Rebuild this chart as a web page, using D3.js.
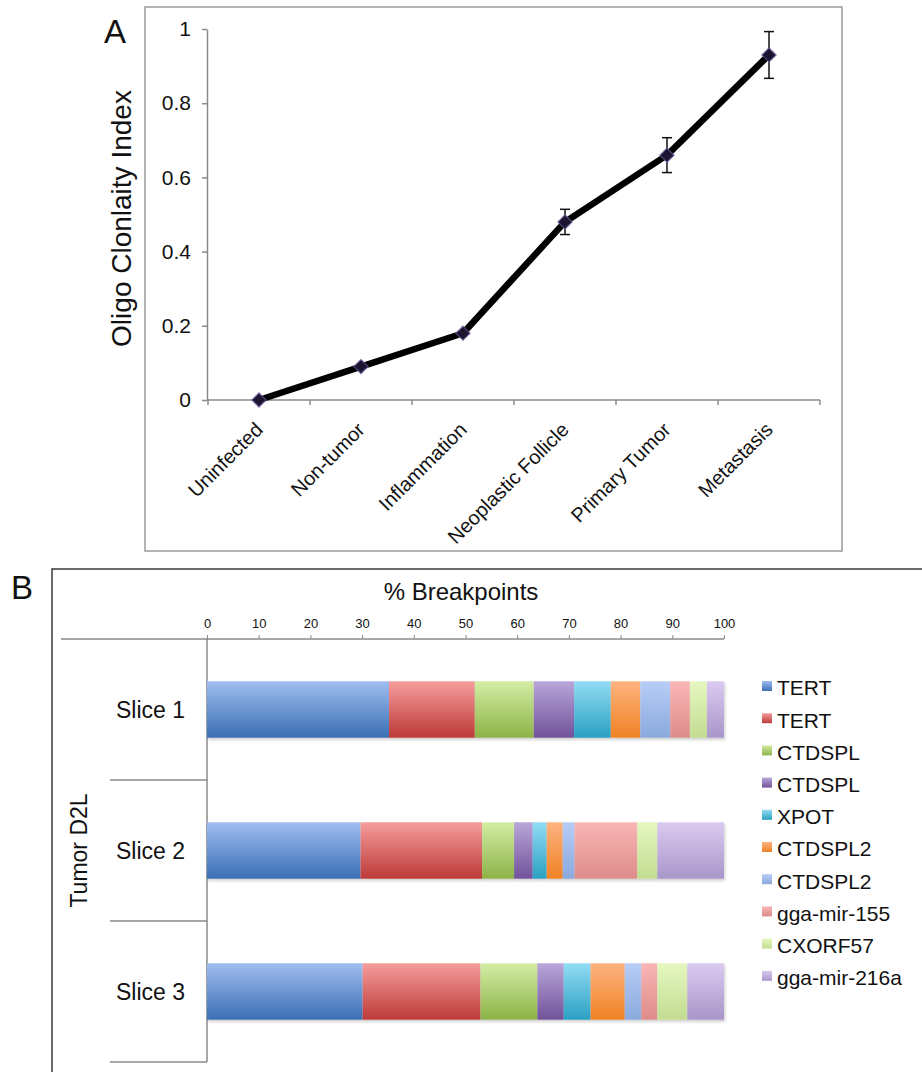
<!DOCTYPE html>
<html>
<head>
<meta charset="utf-8">
<script src="https://cdn.jsdelivr.net/npm/d3@7"></script>
<style>
  body { margin: 0; background: #fff; }
  text { font-family: "Liberation Sans", Arial, Helvetica, sans-serif; fill: #111; }
</style>
</head>
<body>
<div id="chart"></div>
<script>
// Panel A data
const stages = ["Uninfected", "Non-tumor", "Inflammation", "Neoplastic Follicle", "Primary Tumor", "Metastasis"];
const clonality = [0, 0.09, 0.18, 0.48, 0.66, 0.93];
const clonalityErr = [0, 0, 0, 0.034, 0.047, 0.063];
const yTicksA = [0, 0.2, 0.4, 0.6, 0.8, 1];

// Panel B data
const slices = ["Slice 1", "Slice 2", "Slice 3"];
const seriesNames = ["TERT", "TERT", "CTDSPL", "CTDSPL", "XPOT", "CTDSPL2", "CTDSPL2", "gga-mir-155", "CXORF57", "gga-mir-216a"];
const slice1 = [35.2, 16.6, 11.4, 7.8, 7.1, 5.7, 5.8, 3.8, 3.3, 3.3];
const slice2 = [29.7, 23.5, 6.2, 3.6, 2.7, 3.1, 2.3, 12.1, 3.9, 12.9];
const slice3 = [30.1, 22.8, 11.0, 5.1, 5.2, 6.6, 3.2, 3.1, 5.8, 7.1];
const xTicksB = [0, 10, 20, 30, 40, 50, 60, 70, 80, 90, 100];

// gradient colours (top, bottom) per series
const colorTop = ["#a0bdf0", "#f59d9c", "#d3eda4", "#b9a6d9", "#92dcf4", "#fdb380", "#b7cdf6", "#f9b6b5", "#e5f7c0", "#dacaf0"];
const colorBot = ["#3a6fb5", "#bd3a38", "#8db348", "#71529a", "#2aa0c2", "#f08224", "#8aa9dd", "#dd8b8a", "#c3dc92", "#a996ca"];

const svg = d3.select("#chart").append("svg")
  .attr("width", 922)
  .attr("height", 1072);

const defs = svg.append("defs");
colorTop.forEach((c, i) => {
  const g = defs.append("linearGradient").attr("id", "grad" + i)
    .attr("x1", 0).attr("y1", 0).attr("x2", 0).attr("y2", 1);
  g.append("stop").attr("offset", "0%").attr("stop-color", c);
  g.append("stop").attr("offset", "100%").attr("stop-color", colorBot[i]);
});
const shadow = defs.append("filter").attr("id", "shadow")
  .attr("x", "-5%").attr("y", "-20%").attr("width", "110%").attr("height", "150%");
shadow.append("feDropShadow").attr("dx", 1).attr("dy", 2).attr("stdDeviation", 1.5)
  .attr("flood-color", "#000").attr("flood-opacity", 0.2);

// ---------------- Panel A ----------------
svg.append("rect")
  .attr("x", 145).attr("y", 7).attr("width", 697).attr("height", 544)
  .attr("fill", "none").attr("stroke", "#9a9a9a").attr("stroke-width", 1.5);

svg.append("text").attr("x", 104).attr("y", 43).style("font-size", "33px").text("A");

const x = d3.scaleBand().domain(stages).range([208, 820]);
const y = d3.scaleLinear().domain([0, 1]).range([400, 29]);

const yAxis = svg.append("g")
  .attr("transform", "translate(207,0)")
  .call(d3.axisLeft(y).tickValues(yTicksA).tickSize(5).tickSizeOuter(0)
    .tickPadding(11).tickFormat(d3.format("~g")));
yAxis.selectAll("path, line").attr("stroke", "#8a8a8a").attr("stroke-width", 1.5);
yAxis.selectAll("text").style("font-size", "21px").attr("fill", "#111");

// x axis line + boundary ticks
const xAxis = svg.append("g");
xAxis.append("line")
  .attr("x1", x.range()[0]).attr("x2", x.range()[1])
  .attr("y1", y(0)).attr("y2", y(0))
  .attr("stroke", "#8a8a8a").attr("stroke-width", 1.5);
xAxis.selectAll(".xtick")
  .data(stages.map(s => x(s)).concat([x.range()[1]]))
  .enter().append("line")
  .attr("x1", d => d).attr("x2", d => d)
  .attr("y1", y(0)).attr("y2", y(0) + 5)
  .attr("stroke", "#8a8a8a").attr("stroke-width", 1.5);
xAxis.selectAll(".xlab")
  .data(stages)
  .enter().append("text")
  .attr("transform", d => `translate(${x(d) + x.bandwidth() / 2 + 5},${y(0) + 31}) rotate(-45)`)
  .attr("text-anchor", "end")
  .style("font-size", "20px")
  .text(d => d);

svg.append("text")
  .attr("transform", `translate(131,${(y(0) + y(1)) / 2 + 4}) rotate(-90)`)
  .attr("text-anchor", "middle")
  .style("font-size", "28px")
  .text("Oligo Clonlaity Index");

const pts = stages.map((s, i) => ({ s: s, v: clonality[i], e: clonalityErr[i] }));
const cx = d => x(d.s) + x.bandwidth() / 2;

svg.append("path")
  .datum(pts)
  .attr("fill", "none")
  .attr("stroke", "#000")
  .attr("stroke-width", 6.5)
  .attr("stroke-linejoin", "round")
  .attr("d", d3.line().x(cx).y(d => y(d.v)));

// error bars
const err = svg.append("g").selectAll("g")
  .data(pts.filter(d => d.e > 0))
  .enter().append("g")
  .attr("stroke", "#111").attr("stroke-width", 1.5);
err.append("line")
  .attr("x1", cx).attr("x2", cx)
  .attr("y1", d => y(d.v + d.e)).attr("y2", d => y(d.v - d.e));
err.append("line")
  .attr("x1", d => cx(d) - 5).attr("x2", d => cx(d) + 5)
  .attr("y1", d => y(d.v + d.e)).attr("y2", d => y(d.v + d.e));
err.append("line")
  .attr("x1", d => cx(d) - 5).attr("x2", d => cx(d) + 5)
  .attr("y1", d => y(d.v - d.e)).attr("y2", d => y(d.v - d.e));

svg.append("g").selectAll("path")
  .data(pts)
  .enter().append("path")
  .attr("transform", d => `translate(${cx(d)},${y(d.v)}) rotate(45)`)
  .attr("d", d3.symbol().type(d3.symbolSquare).size(100))
  .attr("fill", "#1c1430")
  .attr("stroke", "#6d5c9c")
  .attr("stroke-opacity", 0.6)
  .attr("stroke-width", 1.5);

// ---------------- Panel B ----------------
svg.append("path")
  .attr("d", "M52,1072V569H922")
  .attr("fill", "none").attr("stroke", "#3a3a3a").attr("stroke-width", 1.5);

svg.append("text").attr("x", 11).attr("y", 599).style("font-size", "33px").text("B");

const xb = d3.scaleLinear().domain([0, 100]).range([207, 724]);
const yCat = d3.scaleBand().domain(slices).range([639, 1062]);
const yBar = d3.scaleBand().domain(slices).range([639, 1062]).paddingInner(0.6).paddingOuter(0.3);

svg.append("text")
  .attr("x", 461).attr("y", 600)
  .attr("text-anchor", "middle")
  .style("font-size", "24px")
  .text("% Breakpoints");

svg.append("line")
  .attr("x1", 61).attr("x2", xb(100))
  .attr("y1", 639).attr("y2", 639)
  .attr("stroke", "#8a8a8a").attr("stroke-width", 1.5);

const xAxisB = svg.append("g")
  .attr("transform", "translate(0,639)")
  .call(d3.axisTop(xb).tickValues(xTicksB).tickSize(4).tickSizeOuter(0).tickPadding(7));
xAxisB.select(".domain").remove();
xAxisB.selectAll("line").attr("stroke", "#8a8a8a");
xAxisB.selectAll("text").style("font-size", "13px").attr("fill", "#111");

// category frame
svg.append("line")
  .attr("x1", xb(0)).attr("x2", xb(0))
  .attr("y1", 639).attr("y2", yCat.range()[1])
  .attr("stroke", "#8a8a8a").attr("stroke-width", 1.5);
svg.append("g").selectAll("line")
  .data(slices)
  .enter().append("line")
  .attr("x1", 110).attr("x2", xb(0))
  .attr("y1", d => yCat(d) + yCat.bandwidth())
  .attr("y2", d => yCat(d) + yCat.bandwidth())
  .attr("stroke", "#8a8a8a").attr("stroke-width", 1.5);

svg.append("g").selectAll("text")
  .data(slices)
  .enter().append("text")
  .attr("x", 185)
  .attr("y", d => yBar(d) + yBar.bandwidth() / 2)
  .attr("dy", "0.35em")
  .attr("text-anchor", "end")
  .style("font-size", "23px")
  .text(d => d);

svg.append("text")
  .attr("transform", `translate(87,${(yCat.range()[0] + yCat.range()[1]) / 2}) rotate(-90)`)
  .attr("text-anchor", "middle")
  .style("font-size", "23px")
  .text("Tumor D2L");

// stacked bars
const keys = seriesNames.map((n, i) => "k" + i);
const sliceValues = [slice1, slice2, slice3];
const rows = slices.map((s, j) => {
  const r = { slice: s };
  keys.forEach((k, i) => { r[k] = sliceValues[j][i]; });
  return r;
});
const stacked = d3.stack().keys(keys)(rows);

const barRows = svg.append("g").attr("filter", "url(#shadow)");
barRows.selectAll("g")
  .data(stacked)
  .enter().append("g")
  .attr("fill", (d, i) => `url(#grad${i})`)
  .selectAll("rect")
  .data(d => d)
  .enter().append("rect")
  .attr("x", d => xb(d[0]))
  .attr("width", d => xb(d[1]) - xb(d[0]))
  .attr("y", d => yBar(d.data.slice))
  .attr("height", yBar.bandwidth());

// legend
const legend = svg.append("g").selectAll("g")
  .data(seriesNames)
  .enter().append("g")
  .attr("transform", (d, i) => `translate(762,${688 + i * 32.2})`);
legend.append("rect")
  .attr("x", 0).attr("y", -7).attr("width", 10).attr("height", 10)
  .attr("fill", (d, i) => `url(#grad${i})`);
legend.append("text")
  .attr("x", 15).attr("dy", "0.35em")
  .style("font-size", "21px")
  .text(d => d);
</script>
</body>
</html>
